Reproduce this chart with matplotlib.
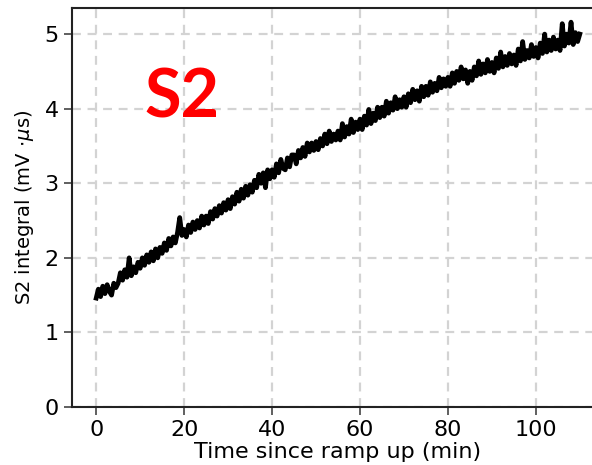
import numpy as np
import matplotlib
matplotlib.use("Agg")
import matplotlib.pyplot as plt

# Time since ramp up (min), sampled every 0.5 min
time_min = np.arange(0, 110.5, 0.5)
# S2 integral (mV*us)
s2_integral = [
    1.46, 1.58, 1.48, 1.62, 1.52, 1.64, 1.55, 1.50, 1.66, 1.60,
    1.66, 1.80, 1.70, 1.84, 1.74, 2.00, 1.76, 1.88, 1.80, 1.94,
    1.86, 2.00, 1.90, 2.04, 1.94, 2.08, 1.96, 2.12, 2.00, 2.14,
    2.06, 2.20, 2.10, 2.26, 2.16, 2.28, 2.20, 2.34, 2.54, 2.30,
    2.38, 2.28, 2.44, 2.34, 2.48, 2.38, 2.50, 2.40, 2.56, 2.44,
    2.56, 2.46, 2.62, 2.52, 2.66, 2.56, 2.70, 2.60, 2.74, 2.64,
    2.78, 2.66, 2.82, 2.72, 2.88, 2.76, 2.92, 2.80, 2.96, 2.84,
    2.98, 2.88, 3.04, 2.94, 3.12, 3.00, 3.14, 2.94, 3.18, 3.06,
    3.18, 3.08, 3.26, 3.14, 3.32, 3.20, 3.18, 3.34, 3.22, 3.38,
    3.38, 3.26, 3.44, 3.34, 3.48, 3.36, 3.54, 3.42, 3.54, 3.44,
    3.56, 3.45, 3.60, 3.50, 3.66, 3.53, 3.70, 3.56, 3.66, 3.58,
    3.70, 3.58, 3.80, 3.62, 3.76, 3.66, 3.86, 3.68, 3.82, 3.72,
    3.86, 3.72, 3.90, 3.78, 3.99, 3.80, 3.94, 3.84, 4.02, 3.88,
    4.02, 3.90, 4.10, 3.94, 4.08, 3.98, 4.16, 4.00, 4.12, 4.02,
    4.16, 4.02, 4.20, 4.08, 4.26, 4.12, 4.24, 4.10, 4.30, 4.16,
    4.30, 4.18, 4.36, 4.22, 4.34, 4.24, 4.42, 4.28, 4.40, 4.30,
    4.42, 4.30, 4.48, 4.34, 4.50, 4.38, 4.56, 4.40, 4.52, 4.34,
    4.50, 4.38, 4.56, 4.44, 4.64, 4.46, 4.60, 4.48, 4.66, 4.50,
    4.62, 4.48, 4.68, 4.54, 4.76, 4.56, 4.70, 4.58, 4.74, 4.60,
    4.72, 4.58, 4.80, 4.64, 4.90, 4.66, 4.78, 4.68, 4.86, 4.70,
    4.82, 4.68, 4.88, 4.74, 5.00, 4.76, 4.92, 4.78, 4.96, 4.80,
    4.92, 4.78, 5.14, 4.84, 5.00, 4.88, 5.16, 4.86, 5.02, 4.90,
    5.00,
]
x_ticks = [0, 20, 40, 60, 80, 100]
y_ticks = [0, 1, 2, 3, 4, 5]

fig = plt.figure(figsize=(5.92, 4.65), dpi=100)
ax = fig.add_axes([72 / 592, 58 / 465, 532 / 592, 399 / 465])

ax.plot(time_min, s2_integral, color="black", lw=3.4, zorder=3)

ax.set_xlim(-5.5, 115.5)
ax.set_ylim(0, 5.35)
ax.set_xticks(x_ticks)
ax.set_yticks(y_ticks)
ax.grid(True, color="#d3d3d3", linestyle=(0, (4, 3)), linewidth=1.6)
ax.set_axisbelow(True)
for side in ax.spines.values():
    side.set_color("#222222")
    side.set_linewidth(1.5)
ax.tick_params(axis="both", labelsize=16, length=6, width=1.2, color="#444444")
ax.set_xlabel("Time since ramp up (min)", fontsize=16, labelpad=1)
ax.set_ylabel(r"S2 integral (mV $\cdot \mu$s)", fontsize=14, labelpad=6)

ax.text(19.5, 4.14, "S2", color="#ff0000", fontsize=48, fontweight="bold",
        family="Lato", ha="center", va="center")

fig.savefig("out.png", dpi=100)
